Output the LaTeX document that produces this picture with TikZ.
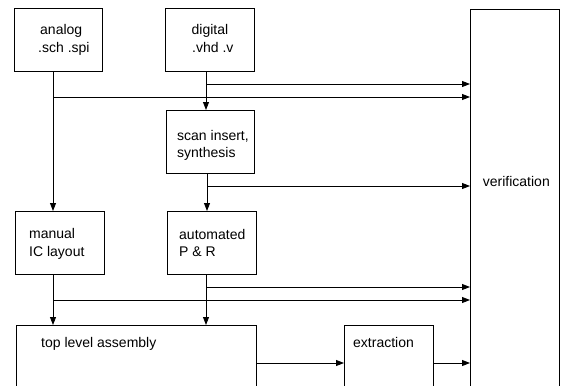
\documentclass[tikz,border=0pt]{standalone}
\usepackage{fontspec}
\setmainfont{Liberation Sans}
\usetikzlibrary{arrows.meta}

\tikzset{
  box/.style={draw, line width=0.9pt, rectangle, inner sep=0pt, anchor=north west},
  lbl/.style={anchor=base west, inner sep=0pt, font=\fontsize{14}{16}\selectfont},
  flow/.style={draw, line width=0.9pt, -{Triangle[length=8pt,width=6pt]}},
  tap/.style={draw, line width=0.9pt}
}

\begin{document}
\begin{tikzpicture}[x=1pt, y=-1pt]
  \clip (0,0) rectangle (561,385);

  % process boxes (top-left corner, size)
  \node[box, minimum width=88pt, minimum height=63pt] (analog)   at (14,8)   {};
  \node[box, minimum width=89pt, minimum height=63pt] (digital)  at (165,8)  {};
  \node[box, minimum width=88pt, minimum height=63pt] (scan)     at (166,110) {};
  \node[box, minimum width=89pt, minimum height=63pt] (manual)   at (15,211) {};
  \node[box, minimum width=89pt, minimum height=63pt] (auto)     at (167,211) {};
  \node[box, minimum width=240pt, minimum height=80pt] (top)     at (16,325) {};
  \node[box, minimum width=89pt, minimum height=80pt] (extract)  at (344,325) {};
  \node[box, minimum width=89pt, minimum height=400pt] (verif)   at (470,9)  {};

  % box texts
  \node[lbl] (analogA) at (40,35)    {analog};
  \node[lbl] (analogB) at (38,52.5)  {.sch .spi};
  \node[lbl] (digitalA) at (191.5,35)   {digital};
  \node[lbl] (digitalB) at (192,52.5) {.vhd .v};
  \node[lbl] (scanA) at (177,140.5)  {scan insert,};
  \node[lbl] (scanB) at (177,157.7)  {synthesis};
  \node[lbl] (manualA) at (29,238.5) {manual};
  \node[lbl] (manualB) at (29,256.5) {IC layout};
  \node[lbl] (autoA) at (179,239)    {automated};
  \node[lbl] (autoB) at (179,256.5)  {P \& R};
  \node[lbl] (topA) at (41,347.7)    {top level assembly};
  \node[lbl] (extractA) at (353,347.7) {extraction};
  \node[lbl] (verifA) at (482.7,186) {verification};

  % vertical flow lines
  \coordinate (ax) at (53,0);
  \coordinate (dx) at (206,0);
  \coordinate (sx) at (207,0);

  % branch points on the vertical lines
  \coordinate (b1) at (206,84);
  \coordinate (b2) at (53,97);
  \coordinate (b3) at (207,186);
  \coordinate (b4) at (206,287);
  \coordinate (b5) at (53,300);
  \coordinate (ey) at (0,363);

  \draw[flow] (dx |- digital.south) -- (dx |- scan.north);
  \draw[flow] (ax |- analog.south) -- (ax |- manual.north);
  \draw[flow] (sx |- scan.south) -- (sx |- auto.north);
  \draw[flow] (ax |- manual.south) -- (ax |- top.north);
  \draw[flow] (dx |- auto.south) -- (dx |- top.north);

  % taps into verification
  \draw[flow] (b1) -- (b1 -| verif.west);
  \draw[flow] (b2) -- (b2 -| verif.west);
  \draw[flow] (b3) -- (b3 -| verif.west);
  \draw[flow] (b4) -- (b4 -| verif.west);
  \draw[flow] (b5) -- (b5 -| verif.west);

  % assembly -> extraction -> verification
  \draw[flow] (top.east |- ey) -- (extract.west |- ey);
  \draw[flow] (extract.east |- ey) -- (verif.west |- ey);
\end{tikzpicture}
\end{document}
